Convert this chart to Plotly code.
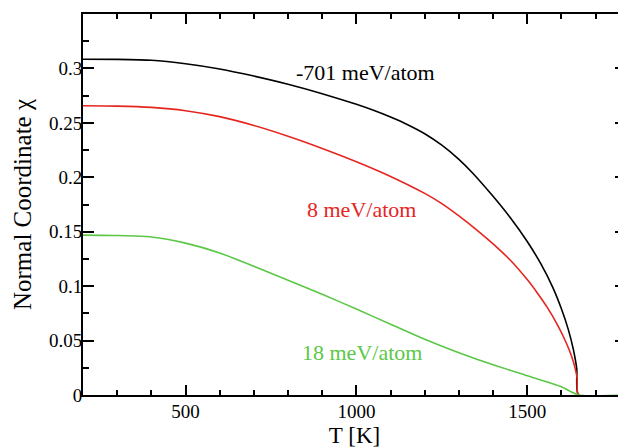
import plotly.graph_objects as go

# Data
T_black = [200, 300, 400, 500, 600, 700, 800, 900, 1000, 1050, 1100, 1150, 1200, 1250, 1300,
           1340, 1400, 1450, 1500, 1540, 1575, 1600, 1620, 1635, 1645, 1650, 1800]
chi_black = [0.3085, 0.3083, 0.3075, 0.3043, 0.2995, 0.2930, 0.2855, 0.2768, 0.2670, 0.2615,
             0.2553, 0.2483, 0.2400, 0.2295, 0.2165, 0.2040, 0.1825, 0.1630, 0.1410, 0.1204,
             0.0987, 0.0792, 0.0603, 0.0418, 0.0237, 0.0, 0.0]

T_red = [200, 300, 400, 500, 600, 700, 800, 900, 1000, 1100, 1200, 1250, 1300, 1350,
         1400, 1450, 1500, 1530, 1560, 1590, 1615, 1630, 1640, 1646, 1650, 1800]
chi_red = [0.2657, 0.2654, 0.2642, 0.2612, 0.2557, 0.2476, 0.2377, 0.2265, 0.2143, 0.2008,
           0.1852, 0.1758, 0.1645, 0.1522, 0.1388, 0.1240, 0.1060, 0.0935, 0.0798,
           0.0635, 0.0473, 0.0353, 0.0247, 0.0154, 0.0, 0.0]

T_green = [200, 300, 400, 500, 600, 700, 800, 900, 1000, 1100, 1200, 1300, 1400, 1500, 1600,
           1650, 1800]
chi_green = [0.1469, 0.1465, 0.1452, 0.1395, 0.1305, 0.1182, 0.1055, 0.0925, 0.0790, 0.0650,
             0.0512, 0.0388, 0.0277, 0.0177, 0.0075, 0.0, 0.0]

series_labels = ["-701 meV/atom", "8 meV/atom", "18 meV/atom"]
label_T = [1027, 1016, 1016]
label_chi = [0.2966, 0.170, 0.0395]

y_tickvals = [0, 0.05, 0.1, 0.15, 0.2, 0.25, 0.3]
y_ticktext = ["0", "0.05", "0.1", "0.15", "0.2", "0.25", "0.3"]
x_tickvals = [500, 1000, 1500]
x_ticktext = ["500", "1000", "1500"]

colors = ["#000000", "#e5261f", "#5ac846"]
FONT = "Liberation Serif"

fig = go.Figure()
for T, chi, c in zip([T_black, T_red, T_green], [chi_black, chi_red, chi_green], colors):
    fig.add_trace(go.Scatter(x=T, y=chi, mode="lines",
                             line=dict(color=c, width=1.6, shape="spline", smoothing=0.6),
                             showlegend=False, hoverinfo="skip"))

# empty traces to activate mirrored axes
fig.add_trace(go.Scatter(x=[], y=[], xaxis="x2", yaxis="y", showlegend=False))
fig.add_trace(go.Scatter(x=[], y=[], xaxis="x", yaxis="y2", showlegend=False))

for txt, tx, ty, c in zip(series_labels, label_T, label_chi, colors):
    fig.add_annotation(x=tx, y=ty, text=txt, showarrow=False, xref="x", yref="y",
                       font=dict(family=FONT, size=22, color=c))

xr = [200, 1789]
yr = [0, 0.35]
axis_common = dict(ticks="inside", tickcolor="black", showgrid=False, zeroline=False,
                   automargin=False)

# page body has an 8px margin: figure is sized/margined to compensate
fig.update_layout(
    width=618, height=440,
    margin=dict(l=75, r=0, t=6, b=53),
    paper_bgcolor="white", plot_bgcolor="white",
    font=dict(family=FONT, size=19, color="black"),
    xaxis=dict(range=xr, tickvals=x_tickvals, ticktext=x_ticktext, ticklen=10, tickwidth=1.5,
               showline=True, linecolor="black", linewidth=2, ticklabelstandoff=-2,
               minor=dict(dtick=100, tick0=0, ticks="inside", ticklen=5, tickwidth=1.5, tickcolor="black"),
               title=dict(text="T [K]", font=dict(size=23), standoff=12),
               tickfont=dict(size=19), **axis_common),
    xaxis2=dict(range=xr, overlaying="x", side="top", anchor="y", showticklabels=False,
                tickvals=x_tickvals, ticklen=10, tickwidth=1.5,
                showline=True, linecolor="black", linewidth=2,
                minor=dict(dtick=100, tick0=0, ticks="inside", ticklen=5, tickwidth=1.5, tickcolor="black"),
                **axis_common),
    yaxis=dict(range=yr, tickvals=y_tickvals, ticktext=y_ticktext, ticklen=11, tickwidth=1.5,
               showline=True, linecolor="black", linewidth=2, ticklabelstandoff=-5,
               minor=dict(dtick=0.025, tick0=0, ticks="inside", ticklen=6, tickwidth=1.5, tickcolor="black"),
               title=dict(text="Normal Coordinate χ", font=dict(size=25), standoff=10),
               tickfont=dict(size=19), **axis_common),
    yaxis2=dict(range=yr, overlaying="y", side="right", anchor="x", showticklabels=False,
                tickvals=y_tickvals, ticklen=11, tickwidth=1.5, showline=False,
                minor=dict(dtick=0.025, tick0=0, ticks="inside", ticklen=6, tickwidth=1.5, tickcolor="black"),
                **axis_common),
)

fig.write_html("out.html")
